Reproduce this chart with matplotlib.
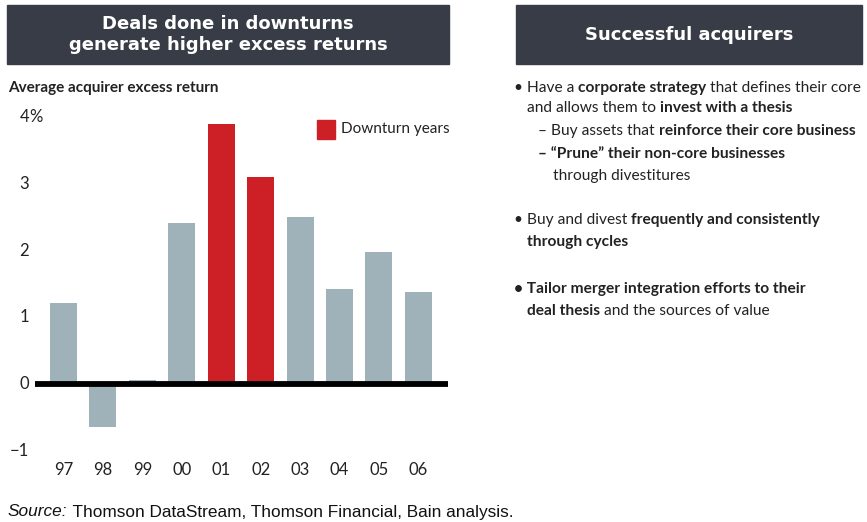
import matplotlib
matplotlib.use('Agg')
import matplotlib.pyplot as plt
from matplotlib.patches import Rectangle

# data
years = ['97', '98', '99', '00', '01', '02', '03', '04', '05', '06']
excess_return = [1.21, -0.64, 0.06, 2.41, 3.89, 3.10, 2.50, 1.42, 1.98, 1.38]
downturn = [False, False, False, False, True, True, False, False, False, False]
y_ticks = [-1, 0, 1, 2, 3, 4]
y_tick_labels = ['\u22121', '0', '1', '2', '3', '4']

GREY = '#9fb2ba'
RED = '#cc1f26'
HEADER = '#373c47'
FONT = 'Lato'

W, H = 867, 522
fig = plt.figure(figsize=(W / 100, H / 100), dpi=100)
renderer = fig.canvas.get_renderer()


def fx(px):
    return px / W


def fy(py):
    return 1 - py / H


def header(x0, x1, y0, y1, lines):
    fig.patches.append(Rectangle((fx(x0), fy(y1)), fx(x1 - x0), (y1 - y0) / H,
                                 transform=fig.transFigure, color=HEADER, zorder=0))
    fig.text(fx((x0 + x1) / 2), fy((y0 + y1) / 2), lines, color='white',
             fontsize=13, fontweight='bold', family='DejaVu Sans', ha='center', va='center',
             linespacing=1.2)


def runs(x, y, parts, size=11.2, family=FONT, color='#222222'):
    # draw a line made of regular/bold/italic pieces one after another
    for txt, style in parts:
        t = fig.text(fx(x), fy(y), txt, fontsize=size, family=family, color=color,
                     fontweight='bold' if style == 'b' else 'normal',
                     style='italic' if style == 'i' else 'normal', va='center', ha='left')
        x += t.get_window_extent(renderer).width


header(7, 449, 5, 64, 'Deals done in downturns\ngenerate higher excess returns')
header(516, 862, 5, 64, 'Successful acquirers')

fig.text(fx(8), fy(88), 'Average acquirer excess return', fontsize=11, fontweight='bold',
         family=FONT, va='center', color='#222222')

# bar chart
ax = fig.add_axes([fx(35), fy(451), fx(448 - 35), (451 - 117) / H])
xs = range(len(years))
colors = [RED if d else GREY for d in downturn]
ax.bar(xs, excess_return, width=0.685, color=colors, zorder=2)
ax.axhline(0, color='black', lw=4.2, zorder=3)
ax.set_xlim(-0.72, 9.75)
ax.set_ylim(-1, 4)
ax.axis('off')
for i, lab in enumerate(years):
    ax.text(i, -1.28, lab, ha='center', va='center', fontsize=12, family=FONT, color='#222222')
label_x = -0.87
for v, lab in zip(y_ticks, y_tick_labels):
    ax.text(label_x, v, lab, ha='right', va='center', fontsize=12, family=FONT,
            color='#222222')
ax.text(label_x, 4, '%', ha='left', va='center', fontsize=12, family=FONT, color='#222222')

fig.patches.append(Rectangle((fx(317), fy(139)), fx(18), 19 / H, transform=fig.transFigure,
                             color=RED))
fig.text(fx(341), fy(129), 'Downturn years', fontsize=11, family=FONT, va='center',
         color='#222222')

# right-hand text
runs(514, 88, [('\u2022 Have a ', ''), ('corporate strategy', 'b'),
               (' that defines their core', '')])
runs(527, 108, [('and allows them to ', ''), ('invest with a thesis', 'b')])
runs(538, 131, [('\u2013 Buy assets that ', ''), ('reinforce their core business', 'b')])
runs(538, 154, [('\u2013 \u201cPrune\u201d their non-core businesses', 'b')])
runs(553, 176, [('through divestitures', '')])
runs(514, 220, [('\u2022 Buy and divest ', ''), ('frequently and consistently', 'b')])
runs(527, 242, [('through cycles', 'b')])
runs(514, 289, [('\u2022 Tailor merger integration efforts to their', 'b')])
runs(527, 311, [('deal thesis', 'b'), (' and the sources of value', '')])

# source line
runs(8, 512, [('Source:', 'i'), (' Thomson DataStream, Thomson Financial, Bain analysis.', '')],
     size=12.4, family='Liberation Sans', color='#111111')

fig.savefig('out.png', dpi=100)
